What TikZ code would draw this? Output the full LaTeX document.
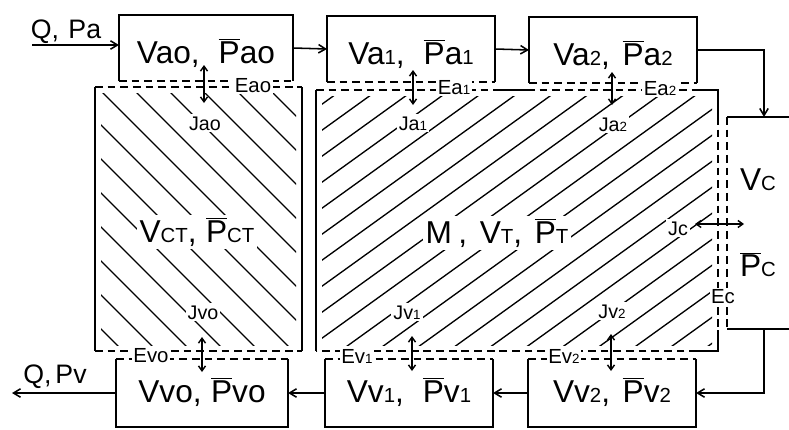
\documentclass[tikz,border=0pt]{standalone}
\usepackage{fontspec}
\setmainfont{Liberation Sans}
\usetikzlibrary{arrows.meta}

% bar over P, small index (digits and capitals)
\newcommand{\pbar}{$\overline{\mbox{P}}$}
\newcommand{\sx}[1]{{\fontsize{14.5}{14}\selectfont #1}}
\newcommand{\tx}[1]{{\fontsize{9.5}{10}\selectfont #1}}

\begin{document}
\begin{tikzpicture}[
  x=0.025cm,
  y=-0.025cm,
  bigtext/.style={font=\fontsize{22.5}{24}\selectfont},
  topbox/.style={bigtext, inner sep=0pt, outer sep=0pt, minimum height=1.65cm, minimum width=4.2cm, text height=24pt, text depth=2pt},
  botbox/.style={bigtext, inner sep=0pt, outer sep=0pt, minimum height=1.7cm, minimum width=4.2cm, text height=17pt, text depth=3.5pt},
  boxedge/.style={draw=black, line width=1.1pt},
  membrane/.style={draw=black, line width=1.1pt, dash pattern=on 5.5pt off 3.5pt},
  hatch/.style={draw=black, line width=0.95pt},
  flow/.style={-{Straight Barb[length=5pt,width=6pt]}, draw=black, line width=1.1pt},
  flux/.style={{Straight Barb[length=3.5pt,width=5pt]}-{Straight Barb[length=3.5pt,width=5pt]}, draw=black, line width=1pt},
  regtext/.style={bigtext, fill=white, inner sep=2pt, anchor=base},
  jtext/.style={font=\fontsize{14}{15}\selectfont, fill=white, inner sep=1.5pt, anchor=base},
  etext/.style={font=\fontsize{14.5}{15}\selectfont, fill=white, inner sep=1pt, anchor=base},
  flowtext/.style={font=\fontsize{19}{20}\selectfont, anchor=base}
]
  \useasboundingbox (0,0) rectangle (789,429);

  % hatching of the two tissue regions
  \begin{scope}
    \clip (101,93) rectangle (296,345);
    \foreach \c in {-228,-194,...,214} {
      \draw[hatch] ({\c+80},80) -- ({\c+380},380);
    }
  \end{scope}
  \begin{scope}
    \clip (322,96) rectangle (712,345);
    \foreach \c in {336,362,...,856} {
      \draw[hatch] (300,{\c-216}) -- (740,{\c-532.8});
    }
  \end{scope}

  % region CT
  \draw[boxedge] (95,87) -- (95,351);
  \draw[boxedge] (302,87) -- (302,351);
  \draw[membrane] (95,87) -- (302,87);
  \draw[membrane] (95,351) -- (302,351);

  % region T
  \draw[boxedge] (316,90) -- (316,351);
  \draw[membrane] (316,90) -- (497,90);
  \draw[boxedge] (497,90) -- (527,90);
  \draw[membrane] (527,90) -- (697,90);
  \draw[boxedge] (697,90) -- (718,90) -- (718,117);
  \draw[membrane] (718,117) -- (718,330);
  \draw[boxedge] (718,330) -- (718,351) -- (697,351);
  \draw[membrane] (697,351) -- (316,351);

  % arterial and venous compartments
  \node[topbox, minimum width=4.35cm] (va0) at (206,48) {Vao,\hspace{0.6em}\pbar ao};
  \node[topbox] (va1) at (411,49) {Va\sx{1},\hspace{0.6em}\pbar a\sx{1}};
  \node[topbox] (va2) at (613,50) {Va\sx{2},\hspace{0.4em}\pbar a\sx{2}};
  \node[botbox, minimum width=4.3cm] (vv0) at (202,393) {Vvo,\hspace{0.3em}\pbar vo};
  \node[botbox] (vv1) at (409,393) {Vv\sx{1},\hspace{0.6em}\pbar v\sx{1}};
  \node[botbox] (vv2) at (612,393) {Vv\sx{2},\hspace{0.4em}\pbar v\sx{2}};
  \node[bigtext, inner sep=0pt, outer sep=0pt, minimum width=1.55cm, minimum height=5.3cm, align=center] (vc) at (758,223)
    {V\sx{C}\\[37pt]\pbar\sx{C}};

  \foreach \n in {va0,va1,va2} {
    \draw[boxedge] (\n.south west) -- (\n.north west) -- (\n.north east) -- (\n.south east);
    \draw[membrane] (\n.south west) -- (\n.south east);
  }
  \foreach \n in {vv0,vv1,vv2} {
    \draw[boxedge] (\n.north west) -- (\n.south west) -- (\n.south east) -- (\n.north east);
    \draw[membrane] (\n.north west) -- (\n.north east);
  }
  \draw[membrane] (vc.north west) -- (vc.south west);
  \draw[boxedge] (vc.north west) -- (vc.north east);
  \draw[boxedge] (vc.south west) -- (vc.south east);

  % region labels
  \node[regtext] (ct) at (197,242) {V\sx{CT},\hspace{0.3em}\pbar\sx{CT}};
  \node[regtext] (tt) at (497,243) {M\hspace{0.2em},\hspace{0.4em}V\sx{T},\hspace{0.4em}\pbar\sx{T}};

  % blood flow
  \coordinate (qin) at (32,45);
  \coordinate (qout) at (12,393);
  \draw[flow] (qin) -- (qin -| va0.west);
  \draw[flow] (va0.east) -- (va1.west);
  \draw[flow] (va1.east) -- (va2.west);
  \draw[flow] (va2.east) -| ([xshift=0.15cm]vc.north);
  \draw[flow] ([xshift=0.15cm]vc.south) |- (vv2.east);
  \draw[flow] (vv2.west) -- (vv1.east);
  \draw[flow] (vv1.west) -- (vv0.east);
  \draw[flow] (vv0.west) -- (qout);
  \node[flowtext] (qpa) at (66,38) {Q,\hspace{0.35em}Pa};
  \node[flowtext] (qpv) at (55,383) {Q,\hspace{0.15em}Pv};

  % membranes
  \node[etext] (ea0) at (253,92) {Eao};
  \node[etext] (ea1) at (454,94) {Ea\tx{1}};
  \node[etext] (ea2) at (660,95) {Ea\tx{2}};
  \node[etext] (ev0) at (151,362) {Evo};
  \node[etext] (ev1) at (357,363) {Ev\tx{1}};
  \node[etext] (ev2) at (564,363) {Ev\tx{2}};
  \node[etext] (ec) at (723,303) {Ec};

  % fluxes
  \node[jtext] (ja0) at (205,130) {Jao};
  \node[jtext] (ja1) at (413,130) {Ja\tx{1}};
  \node[jtext] (ja2) at (613,131) {Ja\tx{2}};
  \node[jtext] (jv0) at (203,319) {Jvo};
  \node[jtext] (jv1) at (407,319) {Jv\tx{1}};
  \node[jtext] (jv2) at (612,318) {Jv\tx{2}};
  \node[jtext] (jc) at (678,235) {Jc};
  \foreach \x/\ya/\yb in {204/65/103, 413/70/105, 612/72/105, 202/337/372, 412/336/371, 611/334/371} {
    \draw[flux] (\x,\ya) -- (\x,\yb);
  }
  \draw[flux] (695,224) -- (744,224);
\end{tikzpicture}
\end{document}
